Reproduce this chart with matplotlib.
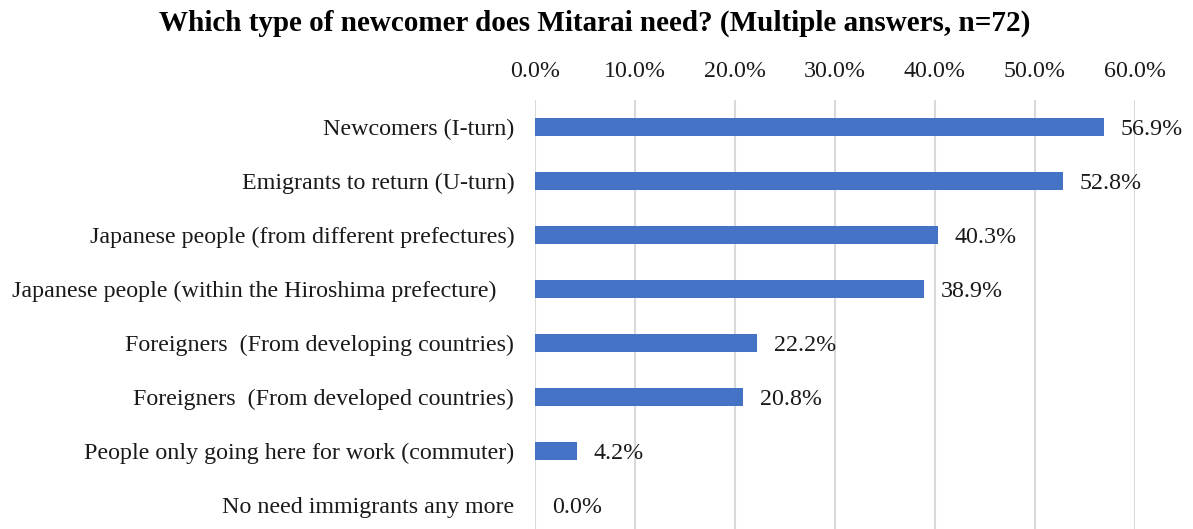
import matplotlib
matplotlib.use("Agg")
import matplotlib.pyplot as plt
from matplotlib.ticker import FuncFormatter

# survey answers, top to bottom
categorias = [
    "Newcomers (I-turn)",
    "Emigrants to return (U-turn)",
    "Japanese people (from different prefectures)",
    "Japanese people (within the Hiroshima prefecture)   ",
    "Foreigners  (From developing countries)",
    "Foreigners  (From developed countries)",
    "People only going here for work (commuter)",
    "No need immigrants any more",
]
porcentajes = [56.9, 52.8, 40.3, 38.9, 22.2, 20.8, 4.2, 0.0]
ticks_x = [0, 10, 20, 30, 40, 50, 60]

plt.rcParams["font.family"] = ["Liberation Serif", "DejaVu Serif"]

fig = plt.figure(figsize=(11.93, 5.29), dpi=100)
ax = fig.add_axes([535 / 1193, 0.0, 600 / 1193, 429 / 529])

pos = list(range(len(categorias)))
ax.barh(pos, porcentajes, height=0.35, color="#4472C4", zorder=3)

for y, v in zip(pos, porcentajes):
    ax.annotate(f"{v:.1f}%", (v, y), xytext=(12, 0), textcoords="offset points",
                va="center_baseline", ha="left", fontsize=17.3, color="#1a1a1a")

ax.set_xlim(0, 60)
ax.set_ylim(-0.5 + 429 / 54, -0.5)
ax.set_xticks(ticks_x)
ax.xaxis.set_major_formatter(FuncFormatter(lambda v, p: f"{v:.1f}%"))
ax.xaxis.tick_top()
ax.set_yticks(pos)
ax.set_yticklabels(categorias)
ax.tick_params(axis="x", length=0, pad=13, labelsize=17.3, colors="#1a1a1a")
ax.tick_params(axis="y", length=0, pad=15, labelsize=17.3, colors="#1a1a1a")
for lbl in ax.get_yticklabels():
    lbl.set_verticalalignment("center_baseline")
ax.grid(axis="x", color="#d9d9d9", linewidth=1.5, zorder=0)
for s in ax.spines.values():
    s.set_visible(False)

fig.text(595 / 1193, 1 - 23 / 529, "Which type of newcomer does Mitarai need? (Multiple answers, n=72)",
         ha="center", va="center", fontsize=21, fontweight="bold")

fig.savefig("out.png", dpi=100)
